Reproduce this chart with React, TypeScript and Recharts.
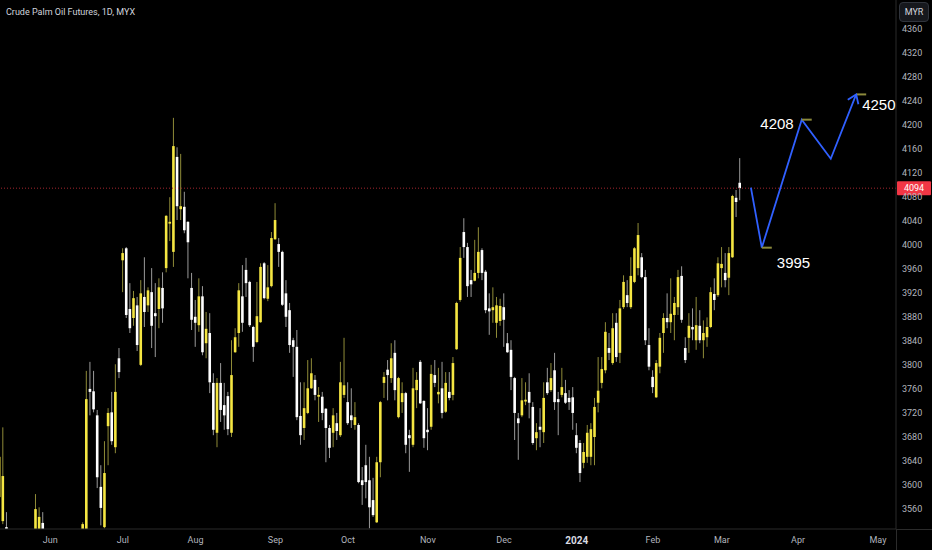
import React from 'react';
import { ComposedChart, Bar, Line, XAxis, YAxis, ReferenceLine } from 'recharts';

// daily OHLC, one entry per trading day (index 0 ≈ mid May 2023, last = 8 Mar 2024)
const opens = [
  3580, 3540, 3530, 3522, 3485, 3500, 3478, 3455, 3482, 3510,
  3500, 3515, 3537, 3500, 3465, 3430, 3395, 3372, 3400, 3440,
  3412, 3470, 3495, 3480, 3500, 3760, 3756, 3716, 3597, 3530,
  3698, 3721, 3663, 3811, 3974, 3994, 3893, 3878, 3899, 3800,
  3913, 3899, 3921, 3886, 3893, 3928, 3961, 4035, 3988, 4146,
  4059, 4063, 4038, 3928, 3880, 3866, 3914, 3836, 3853, 3770,
  3687, 3770, 3733, 3748, 3687, 3821, 3853, 3914, 3958, 3938,
  3863, 3838, 3871, 3969, 3910, 3931, 4009, 4001, 3988, 3919,
  3891, 3841, 3830, 3715, 3695, 3720, 3761, 3775, 3747, 3747,
  3727, 3695, 3687, 3703, 3683, 3750, 3738, 3716, 3700, 3700,
  3608, 3633, 3608, 3575, 3538, 3638, 3770, 3792, 3778, 3820,
  3713, 3738, 3753, 3683, 3667, 3758, 3805, 3740, 3692, 3697,
  3783, 3751, 3761, 3722, 3755, 3750, 3826, 3908, 4021, 3996,
  3941, 3940, 3953, 3991, 3955, 3894, 3891, 3870, 3873, 3896,
  3836, 3825, 3778, 3711, 3716, 3739, 3755, 3730, 3678, 3697,
  3688, 3771, 3758, 3791, 3743, 3750, 3753, 3745, 3746, 3683,
  3670, 3637, 3647, 3647, 3680, 3737, 3770, 3791, 3828, 3803,
  3870, 3820, 3896, 3916, 3896, 3938, 3961, 3979, 3946, 3833,
  3780, 3746, 3797, 3853, 3878, 3871, 3883, 3896, 3948, 3828,
  3845, 3863, 3841, 3865, 3841, 3846, 3863, 3918, 3916, 3961,
  3953, 3945, 3979, 4078, 4103,
];
const highs = [
  3658, 3696, 3555, 3526, 3515, 3520, 3500, 3490, 3520, 3524,
  3585, 3563, 3555, 3515, 3490, 3460, 3420, 3410, 3450, 3470,
  3480, 3510, 3520, 3538, 3790, 3805, 3790, 3725, 3633, 3673,
  3728, 3755, 3801, 3828, 3994, 3996, 3936, 3923, 3913, 3941,
  3979, 3929, 3961, 3936, 3944, 3954, 4049, 4079, 4211, 4162,
  4151, 4088, 4039, 3953, 3908, 3944, 3931, 3888, 3886, 3786,
  3778, 3803, 3770, 3755, 3841, 3861, 3936, 3966, 3978, 3940,
  3865, 3938, 3969, 3971, 3966, 4021, 4069, 4011, 3990, 3941,
  3903, 3845, 3858, 3771, 3771, 3808, 3811, 3783, 3763, 3755,
  3728, 3700, 3728, 3720, 3805, 3845, 3771, 3761, 3738, 3703,
  3630, 3667, 3647, 3612, 3647, 3740, 3788, 3808, 3836, 3841,
  3780, 3771, 3755, 3692, 3795, 3788, 3808, 3741, 3728, 3800,
  3808, 3795, 3805, 3788, 3788, 3813, 3905, 3996, 4044, 4003,
  3958, 4008, 4029, 3994, 3958, 3919, 3929, 3913, 3910, 3919,
  3853, 3841, 3780, 3720, 3778, 3771, 3786, 3738, 3703, 3728,
  3771, 3795, 3803, 3820, 3755, 3795, 3775, 3758, 3763, 3703,
  3675, 3670, 3700, 3703, 3745, 3813, 3813, 3871, 3853, 3886,
  3886, 3908, 3949, 3941, 3979, 3996, 4036, 3986, 3958, 3861,
  3791, 3808, 3853, 3886, 3919, 3944, 3913, 3958, 3964, 3846,
  3886, 3894, 3913, 3891, 3874, 3879, 3929, 3944, 3979, 3996,
  3986, 3996, 4083, 4091, 4144,
];
const lows = [
  3567, 3535, 3505, 3470, 3460, 3470, 3440, 3445, 3475, 3480,
  3490, 3505, 3490, 3455, 3420, 3380, 3350, 3340, 3390, 3400,
  3405, 3450, 3470, 3470, 3490, 3716, 3721, 3595, 3533, 3528,
  3633, 3667, 3653, 3778, 3921, 3878, 3853, 3865, 3823, 3798,
  3863, 3888, 3828, 3813, 3861, 3870, 3954, 4006, 3963, 4041,
  4041, 4019, 3944, 3858, 3830, 3855, 3816, 3811, 3753, 3683,
  3663, 3705, 3692, 3683, 3680, 3820, 3830, 3855, 3913, 3863,
  3805, 3836, 3870, 3909, 3906, 3929, 4008, 3963, 3898, 3863,
  3820, 3780, 3708, 3667, 3675, 3718, 3760, 3741, 3705, 3708,
  3638, 3645, 3663, 3675, 3680, 3745, 3700, 3695, 3692, 3603,
  3567, 3578, 3528, 3547, 3537, 3613, 3745, 3741, 3770, 3741,
  3711, 3720, 3653, 3622, 3663, 3728, 3735, 3662, 3658, 3692,
  3763, 3736, 3711, 3720, 3741, 3741, 3825, 3905, 3978, 3913,
  3913, 3939, 3944, 3941, 3886, 3850, 3870, 3845, 3865, 3830,
  3820, 3758, 3675, 3642, 3713, 3733, 3711, 3667, 3658, 3663,
  3670, 3750, 3755, 3725, 3683, 3746, 3735, 3725, 3692, 3653,
  3605, 3628, 3637, 3633, 3633, 3721, 3761, 3786, 3808, 3800,
  3805, 3803, 3893, 3896, 3893, 3936, 3949, 3944, 3833, 3791,
  3753, 3745, 3786, 3820, 3861, 3853, 3841, 3883, 3870, 3803,
  3820, 3841, 3825, 3836, 3811, 3830, 3861, 3891, 3913, 3929,
  3929, 3916, 3978, 4046, 4074,
];
const closes = [
  3647, 3615, 3522, 3485, 3500, 3478, 3455, 3482, 3510, 3495,
  3560, 3547, 3500, 3465, 3430, 3395, 3372, 3400, 3440, 3412,
  3470, 3495, 3480, 3535, 3743, 3755, 3726, 3613, 3562, 3620,
  3720, 3673, 3755, 3788, 3986, 3883, 3861, 3911, 3833, 3919,
  3888, 3924, 3865, 3881, 3929, 3894, 4048, 4038, 4164, 4064,
  4064, 4024, 4004, 3875, 3870, 3914, 3821, 3860, 3771, 3692,
  3770, 3725, 3716, 3693, 3783, 3846, 3924, 3870, 3936, 3866,
  3830, 3881, 3963, 3911, 3929, 4011, 4041, 3988, 3900, 3880,
  3833, 3830, 3713, 3683, 3728, 3761, 3786, 3750, 3750, 3720,
  3695, 3662, 3716, 3690, 3771, 3766, 3703, 3708, 3713, 3605,
  3600, 3605, 3563, 3550, 3638, 3738, 3780, 3783, 3811, 3758,
  3778, 3753, 3667, 3678, 3761, 3775, 3736, 3678, 3688, 3785,
  3770, 3755, 3720, 3770, 3745, 3803, 3903, 3978, 3996, 3931,
  3934, 3953, 3988, 3953, 3891, 3889, 3896, 3899, 3898, 3875,
  3821, 3780, 3720, 3703, 3741, 3742, 3737, 3670, 3688, 3692,
  3745, 3753, 3778, 3738, 3738, 3763, 3737, 3738, 3720, 3662,
  3620, 3655, 3687, 3693, 3730, 3757, 3793, 3855, 3820, 3861,
  3813, 3894, 3938, 3903, 3948, 3994, 4016, 3946, 3841, 3797,
  3763, 3803, 3845, 3878, 3871, 3885, 3903, 3946, 3875, 3808,
  3865, 3859, 3866, 3841, 3853, 3863, 3921, 3908, 3969, 3968,
  3941, 3986, 4081, 4071, 4094,
];

const monthTicks = [14, 34, 54, 76, 96, 118, 139, 159, 180, 199, 220, 242];
const monthLabels = ['Jun', 'Jul', 'Aug', 'Sep', 'Oct', 'Nov', 'Dec', '2024', 'Feb', 'Mar', 'Apr', 'May'];
const priceTicks = [
  3560, 3600, 3640, 3680, 3720, 3760, 3800, 3840, 3880, 3920, 3960,
  4000, 4040, 4080, 4120, 4160, 4200, 4240, 4280, 4320, 4360,
];
const lastPrice = 4094;

// hand-drawn projection path
const projIndex = [207, 210, 221, 229, 236];
const projValue = [4095, 3995, 4208, 4143, 4250];
const projLabel = ['', '3995', '4208', '', '4250'];

const UP = '#f5e642';
const DOWN = '#ffffff';
const WICK_UP = '#8f8b38';
const WICK_DOWN = '#9a9a9a';
const AXIS = '#2b2b2b';
const TEXT = '#b2b5be';
const BLUE = '#3060ff';
const FONT = 'Roboto, "Liberation Sans", Arial, sans-serif';

// where each projection label sits relative to its point
const labelPlacement: Record<string, { dx: number; dy: number; anchor: 'start' | 'end' }> = {
  '3995': { dx: 15, dy: 20, anchor: 'start' },
  '4208': { dx: -8, dy: 9, anchor: 'end' },
  '4250': { dx: 6, dy: 16, anchor: 'start' },
};

const candles = opens.map((o, i) => ({
  i,
  open: o,
  high: highs[i],
  low: lows[i],
  close: closes[i],
  range: [lows[i], highs[i]],
}));
const projRows = projIndex.map((i, k) => ({
  i,
  proj: projValue[k],
  label: projLabel[k],
  last: k === projIndex.length - 1,
}));
const data = [...candles, ...projRows];

function Candle(props: any) {
  const { x, y, width, height, payload } = props;
  if (!payload || payload.open == null || !isFinite(y) || !isFinite(height)) return <g />;
  const { open, close, high, low } = payload;
  const top = Math.min(y, y + height);
  const bottom = Math.max(y, y + height);
  const span = high - low || 1;
  const py = (v: number) => top + ((high - v) / span) * (bottom - top);
  const cx = x + width / 2;
  const up = close >= open;
  const bTop = py(Math.max(open, close));
  const bBot = py(Math.min(open, close));
  return (
    <g>
      <line x1={cx} x2={cx} y1={top} y2={bottom} stroke={up ? WICK_UP : WICK_DOWN} strokeWidth={1} />
      <rect x={cx - 1.3} y={bTop} width={2.6} height={Math.max(bBot - bTop, 1.2)} fill={up ? UP : DOWN} />
    </g>
  );
}

function ProjDot(props: any) {
  const { cx, cy, payload, index } = props;
  if (!payload || payload.proj == null || cx == null || cy == null) return <g key={`pd${index}`} />;
  const place = labelPlacement[payload.label];
  return (
    <g key={`pd${index}`}>
      {payload.label ? (
        <line x1={cx} x2={cx + 10} y1={cy} y2={cy} stroke="#8c8a3c" strokeWidth={2} />
      ) : null}
      {place ? (
        <text
          x={cx + place.dx}
          y={cy + place.dy}
          textAnchor={place.anchor}
          fill="#ffffff"
          fontSize={15}
          fontFamily='"Liberation Sans", Arial, sans-serif'
        >
          {payload.label}
        </text>
      ) : null}
      {payload.last ? (
        <path
          d={`M${cx - 8.4},${cy + 5.4} L${cx},${cy} L${cx + 2.2},${cy + 9.8}`}
          fill="none"
          stroke={BLUE}
          strokeWidth={1.8}
        />
      ) : null}
    </g>
  );
}

function PriceTick(props: any) {
  const { x, y, payload } = props;
  return (
    <text x={x} y={y} dy="0.355em" textAnchor="start" fill={TEXT} fontSize={9} fontFamily={FONT}>
      {payload.value}
    </text>
  );
}

function MonthTick(props: any) {
  const { x, y, payload } = props;
  const k = monthTicks.indexOf(payload.value);
  const label = monthLabels[k] ?? '';
  const isYear = label === '2024';
  return (
    <text
      x={x}
      y={y}
      dy="0.71em"
      textAnchor="middle"
      fill={isYear ? '#d8dae0' : TEXT}
      fontWeight={isYear ? 700 : 400}
      fontSize={isYear ? 10 : 9}
      fontFamily={FONT}
    >
      {label}
    </text>
  );
}

function PriceTag(props: any) {
  const vb = props.viewBox || {};
  const x = vb.x + vb.width + 1;
  const y = vb.y;
  return (
    <g>
      <rect x={x} y={y - 7} width={34} height={14} rx={1} fill="#f23645" />
      <text x={x + 17} y={y} dy="0.355em" textAnchor="middle" fill="#ffffff" fontSize={9} fontFamily={FONT}>
        {lastPrice}
      </text>
    </g>
  );
}

export default function App() {
  return (
    <div style={{ position: 'relative', width: 932, height: 550, background: '#000', overflow: 'hidden' }}>
      <style>{`body{margin:0;background:#000}`}</style>
      <ComposedChart
        width={932}
        height={550}
        data={data}
        margin={{ top: 0, right: 0, bottom: 0, left: 0 }}
      >
        <XAxis
          dataKey="i"
          type="number"
          domain={[0.1377, 246.97]}
          allowDataOverflow
          ticks={monthTicks}
          interval={0}
          height={21}
          tickLine={false}
          tickSize={6}
          tickMargin={2}
          axisLine={{ stroke: AXIS }}
          tick={<MonthTick />}
        />
        <YAxis
          orientation="right"
          type="number"
          width={36}
          domain={[3526.9, 4407.1]}
          allowDataOverflow
          ticks={priceTicks}
          interval={0}
          tickLine={false}
          tickSize={6}
          tickMargin={0}
          axisLine={{ stroke: AXIS }}
          tick={<PriceTick />}
        />
        <ReferenceLine
          y={lastPrice}
          stroke="#a3262e"
          strokeDasharray="1 2"
          strokeWidth={1}
          label={<PriceTag />}
        />
        <Bar dataKey="range" barSize={3} shape={<Candle />} isAnimationActive={false} />
        <Line
          dataKey="proj"
          stroke={BLUE}
          strokeWidth={1.8}
          connectNulls
          dot={<ProjDot />}
          activeDot={false}
          isAnimationActive={false}
        />
      </ComposedChart>
      <div style={{ position: 'absolute', left: 896, top: 529, width: 36, height: 1, background: AXIS }} />
      <div style={{ position: 'absolute', left: 896, top: 529, width: 1, height: 21, background: AXIS }} />
      <div
        style={{
          position: 'absolute',
          left: 6,
          top: 6,
          color: '#d1d4dc',
          fontSize: 9,
          fontFamily: FONT,
          lineHeight: '12px',
          whiteSpace: 'nowrap',
        }}
      >
        Crude Palm Oil Futures, 1D, MYX
      </div>
      <div
        style={{
          position: 'absolute',
          left: 899,
          top: 2,
          width: 30,
          height: 20,
          boxSizing: 'border-box',
          border: '1px solid #30343c',
          borderRadius: 4,
          background: '#16181d',
          color: '#d1d4dc',
          fontSize: 9,
          fontFamily: FONT,
          lineHeight: '18px',
          textAlign: 'center',
        }}
      >
        MYR
      </div>
    </div>
  );
}
